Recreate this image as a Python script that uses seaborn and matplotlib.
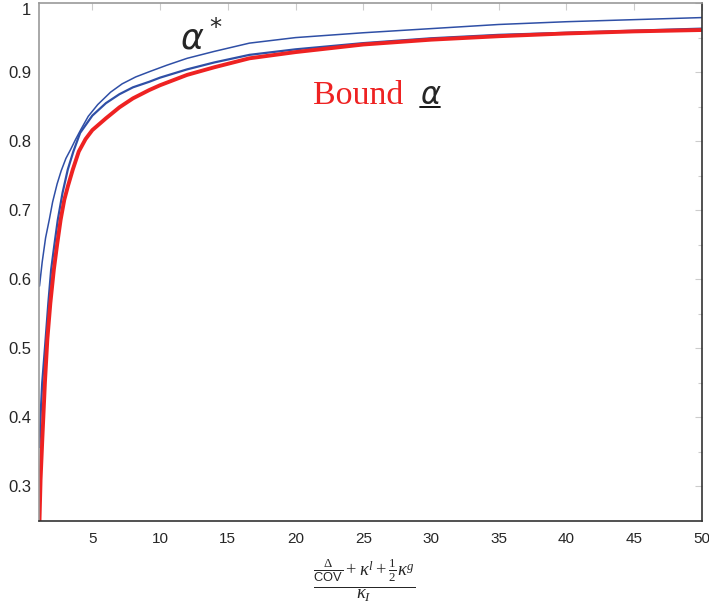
import pandas as pd
import seaborn as sns
import matplotlib.pyplot as plt
from matplotlib.transforms import ScaledTranslation

# values
star_x = [1.1, 1.3, 1.55, 1.83, 2.07, 2.4, 2.7, 3.05, 3.4, 3.75, 4.13, 4.7, 5.4, 6.35, 7.2, 8.2,
          9.26, 10.5, 12, 14, 16.6, 20, 25, 30, 35, 40, 45, 50]
star_y = [0.59, 0.625, 0.66, 0.687, 0.712, 0.738, 0.757, 0.775, 0.788, 0.802, 0.816, 0.836, 0.853,
          0.871, 0.883, 0.893, 0.901, 0.91, 0.92, 0.93, 0.942, 0.95, 0.957, 0.963, 0.969, 0.973,
          0.976, 0.979]
mid_x = [1.1, 1.2, 1.3, 1.52, 1.75, 1.96, 2.2, 2.45, 2.8, 3.19, 3.6, 4.1, 5, 6, 7, 8, 9.2, 10,
         12, 14, 16.6, 20, 25, 30, 35, 40, 45, 50]
mid_y = [0.357, 0.41, 0.45, 0.505, 0.565, 0.614, 0.65, 0.686, 0.725, 0.759, 0.785, 0.812, 0.837,
         0.855, 0.868, 0.878, 0.886, 0.892, 0.904, 0.914, 0.925, 0.933, 0.942, 0.949, 0.954,
         0.957, 0.960, 0.963]
bound_x = [1.1, 1.18, 1.31, 1.5, 1.68, 1.9, 2.16, 2.4, 2.66, 2.93, 3.2, 3.56, 4, 4.5, 5, 6, 7, 8,
           9.2, 10, 12, 14, 16.6, 20, 25, 30, 35, 40, 45, 50]
bound_y = [0.25, 0.31, 0.369, 0.45, 0.513, 0.565, 0.614, 0.65, 0.686, 0.715, 0.735, 0.759, 0.785,
           0.803, 0.816, 0.833, 0.849, 0.862, 0.874, 0.881, 0.896, 0.907, 0.92, 0.929, 0.94,
           0.947, 0.952, 0.956, 0.959, 0.961]
x_ticks = [5, 10, 15, 20, 25, 30, 35, 40, 45, 50]
y_ticks = [0.3, 0.4, 0.5, 0.6, 0.7, 0.8, 0.9, 1.0]
y_tick_labels = ["0.3", "0.4", "0.5", "0.6", "0.7", "0.8", "0.9", "1"]

star_df = pd.DataFrame({"x": star_x, "y": star_y})
mid_df = pd.DataFrame({"x": mid_x, "y": mid_y})
bound_df = pd.DataFrame({"x": bound_x, "y": bound_y})

sns.set_style("white")
plt.rcParams["font.family"] = ["Liberation Sans", "DejaVu Sans"]
plt.rcParams["mathtext.fontset"] = "custom"
plt.rcParams["mathtext.rm"] = "Liberation Serif"
plt.rcParams["mathtext.it"] = "Liberation Serif:italic"
plt.rcParams["mathtext.sf"] = "Liberation Sans"

fig = plt.figure(figsize=(7.09, 6.15), dpi=100)
ax = fig.add_axes([0.0557, 0.153, 0.9343, 0.842])

blue = "#2f4fa6"
sns.lineplot(data=star_df, x="x", y="y", ax=ax, color=blue, lw=1.1)
sns.lineplot(data=mid_df, x="x", y="y", ax=ax, color=blue, lw=1.6)
sns.lineplot(data=bound_df, x="x", y="y", ax=ax, color="#ee2222", lw=2.8)

ax.set_xlim(1.1, 50)
ax.set_ylim(0.25, 1.0)
ax.set_xticks(x_ticks)
ax.set_xticklabels([str(t) for t in x_ticks], fontsize=11)
ax.set_yticks(y_ticks)
ax.set_yticklabels(y_tick_labels, fontsize=12)
ax.set_yticks([0.35, 0.45, 0.55, 0.65, 0.75, 0.85, 0.95], minor=True)
ax.tick_params(axis="both", which="both", direction="in", color="#cccccc",
               top=True, right=True, length=5, width=0.8)
ax.tick_params(axis="y", which="minor", length=3)
ax.tick_params(axis="x", pad=8)
ax.tick_params(axis="y", pad=6)

# nudge the top "1" label down a little so it stays inside the picture
top_lbl = ax.get_yticklabels()[-1]
top_lbl.set_transform(top_lbl.get_transform() + ScaledTranslation(0, -4 / 72, fig.dpi_scale_trans))

for side in ["left", "top"]:
    ax.spines[side].set_color("#999999")
    ax.spines[side].set_linewidth(1.2)
for side in ["bottom", "right"]:
    ax.spines[side].set_color("#333333")
    ax.spines[side].set_linewidth(1.2)

ax.set_xlabel("")
ax.set_ylabel("")

ax.text(13.06, 0.949, r"$\alpha^*$", fontsize=25, ha="center", va="center",
        math_fontfamily="dejavusans")
ax.text(21.27, 0.866, "Bound", fontsize=24.5, color="#ee2222", ha="left", va="center",
        family="Liberation Serif")
ax.text(29.2, 0.865, r"$\alpha$", fontsize=22, ha="left", va="center",
        math_fontfamily="dejavusans")
# underline under the alpha of the bound label
ax.plot([0.575, 0.604], [0.799, 0.799], transform=ax.transAxes, color="black", lw=1.3)

fig.text(0.514, 0.056,
         r"$\frac{\frac{\Delta}{\mathsf{COV}}+\kappa^{l}+\frac{1}{2}\kappa^{g}}{\kappa_{I}}$",
         fontsize=19, ha="center", va="center")

fig.savefig("out.png", dpi=100)
